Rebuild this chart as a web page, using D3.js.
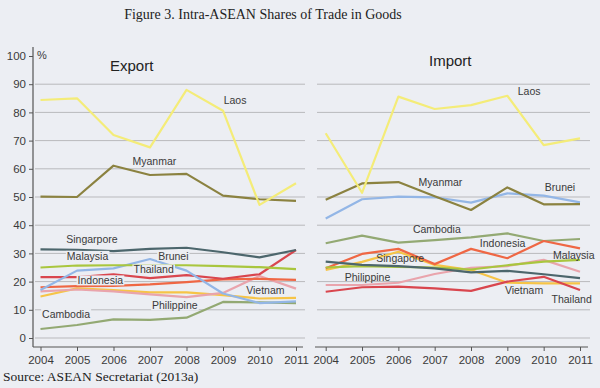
<!DOCTYPE html>
<html lang="en">
<head>
<meta charset="utf-8">
<title>Intra-ASEAN Shares of Trade in Goods</title>
<script src="https://d3js.org/d3.v7.min.js"></script>
<style>
  body { margin: 0; background: #eceef3; }
  svg { display: block; }
  .tick text { font-family: "Liberation Sans", Arial, sans-serif; font-size: 11.5px; fill: #3a3a3a; }
  .tick line { stroke: #555; }
  .lab { font-family: "Liberation Sans", Arial, sans-serif; font-size: 10.5px; fill: #3a3a3a; }
</style>
</head>
<body>
<div id="chart"></div>
<script>
// years on the x axis
var years = [2004, 2005, 2006, 2007, 2008, 2009, 2010, 2011];
var yTicks = [0, 10, 20, 30, 40, 50, 60, 70, 80, 90, 100];
var countries = ["Laos", "Myanmar", "Singapore", "Malaysia", "Brunei", "Thailand", "Indonesia", "Philippine", "Vietnam", "Cambodia"];

// export shares (%)
var exLaos       = [84.4, 85.0, 72.0, 67.6, 88.0, 80.6, 47.2, 54.9];
var exMyanmar    = [50.1, 50.0, 61.1, 57.8, 58.2, 50.5, 49.2, 48.6];
var exSingapore  = [31.4, 31.3, 30.8, 31.6, 32.0, 30.4, 28.6, 31.2];
var exMalaysia   = [25.0, 25.7, 25.8, 25.8, 25.8, 25.5, 25.1, 24.4];
var exBrunei     = [17.0, 23.9, 24.7, 28.0, 23.9, 15.8, 12.4, 13.0];
var exThailand   = [21.6, 21.6, 22.6, 21.2, 22.3, 21.0, 22.6, 31.2];
var exIndonesia  = [18.0, 18.4, 18.5, 19.0, 19.8, 20.8, 21.0, 20.6];
var exPhilippine = [16.5, 17.2, 16.5, 15.5, 14.5, 16.0, 22.0, 17.5];
var exVietnam    = [14.7, 17.6, 17.0, 16.2, 16.2, 15.2, 14.0, 14.2];
var exCambodia   = [3.2, 4.6, 6.6, 6.4, 7.2, 12.8, 12.6, 12.4];

// import shares (%)
var imLaos       = [72.6, 51.5, 85.6, 81.2, 82.6, 85.9, 68.4, 70.8];
var imMyanmar    = [49.0, 54.8, 55.3, 50.3, 45.4, 53.4, 47.4, 47.5];
var imSingapore  = [27.1, 25.9, 25.5, 24.7, 23.3, 23.8, 22.6, 21.2];
var imMalaysia   = [25.0, 25.5, 25.2, 25.0, 24.3, 25.8, 27.1, 27.7];
var imBrunei     = [42.4, 49.2, 50.1, 49.9, 48.0, 51.3, 50.5, 48.1];
var imThailand   = [16.4, 18.0, 18.2, 17.6, 16.7, 20.0, 21.7, 17.0];
var imIndonesia  = [24.7, 29.8, 31.6, 26.2, 31.6, 28.3, 34.4, 31.8];
var imPhilippine = [18.8, 18.8, 19.6, 22.7, 24.9, 25.5, 27.7, 23.5];
var imVietnam    = [24.1, 27.0, 30.6, 25.9, 24.1, 19.6, 19.4, 19.4];
var imCambodia   = [33.6, 36.3, 33.8, 34.7, 35.7, 37.1, 34.4, 35.1];

var exportSeries = [exLaos, exMyanmar, exSingapore, exMalaysia, exBrunei, exThailand, exIndonesia, exPhilippine, exVietnam, exCambodia];
var importSeries = [imLaos, imMyanmar, imSingapore, imMalaysia, imBrunei, imThailand, imIndonesia, imPhilippine, imVietnam, imCambodia];

var colors = {
  Laos: "#f4ec78", Myanmar: "#8b8240", Singapore: "#4c666c", Malaysia: "#a9c63e",
  Brunei: "#93b6e6", Thailand: "#d9464e", Indonesia: "#ef6744", Philippine: "#e9a4ac",
  Vietnam: "#f6c447", Cambodia: "#93a973"
};

// label anchors in data space: [name, year, value, boxed]
var exportLabels = [
  ["Laos", 2009.33, 83.0, false], ["Myanmar", 2007.12, 61.3, false],
  ["Singarpore", 2005.41, 33.7, false], ["Malaysia", 2005.29, 27.7, true],
  ["Brunei", 2007.64, 27.7, true], ["Thailand", 2007.1, 22.9, true],
  ["Indonesia", 2005.64, 19.0, true], ["Vietnam", 2010.16, 15.6, false],
  ["Philippine", 2007.68, 10.2, true], ["Cambodia", 2004.7, 7.2, true]
];
var importLabels = [
  ["Laos", 2009.6, 86.2, false], ["Myanmar", 2007.16, 54.0, false],
  ["Brunei", 2010.45, 52.2, false], ["Cambodia", 2007.06, 37.1, false],
  ["Indonesia", 2008.87, 32.4, false], ["Malaysia", 2010.83, 28.0, false],
  ["Singapore", 2006.05, 26.8, false], ["Philippine", 2005.15, 20.3, false],
  ["Vietnam", 2009.46, 15.5, false], ["Thailand", 2010.77, 12.3, false]
];

var W = 600, H = 388;
var svg = d3.select("#chart").append("svg").attr("width", W).attr("height", H);
svg.append("rect").attr("width", W).attr("height", H).attr("fill", "#eceef3");

var y = d3.scaleLinear().domain([0, 100]).range([338, 56]);
var xL = d3.scaleLinear().domain([2004, 2011]).range([40.5, 296]);
var xR = d3.scaleLinear().domain([2004, 2011]).range([325.7, 580]);
var axisY = 347;

svg.append("text")
  .attr("x", 263).attr("y", 19).attr("text-anchor", "middle")
  .style("font-family", "'Liberation Serif', 'Times New Roman', serif")
  .style("font-size", "14px").style("fill", "#222")
  .text("Figure 3. Intra-ASEAN Shares of Trade in Goods");

svg.append("text")
  .attr("x", 3).attr("y", 381)
  .style("font-family", "'Liberation Serif', 'Times New Roman', serif")
  .style("font-size", "13.5px").style("fill", "#222")
  .text("Source: ASEAN Secretariat (2013a)");

function panel(x, x0, x1, series, labels, title, tx, ty) {
  var g = svg.append("g");

  // gridlines
  g.selectAll(".grid").data(yTicks.filter(function(d) { return d < 100; }))
    .enter().append("line")
      .attr("x1", x0).attr("x2", x1)
      .attr("y1", function(d) { return y(d); })
      .attr("y2", function(d) { return y(d); })
      .attr("stroke", "#b9b9bc").attr("stroke-width", 1);

  // x axis
  var xa = g.append("g").attr("transform", "translate(0," + axisY + ")")
    .call(d3.axisBottom(x).tickValues(years).tickFormat(d3.format("d")).tickSize(4).tickPadding(5));
  xa.select(".domain").remove();
  xa.append("line").attr("x1", x0 - 2).attr("x2", x1 - 2).attr("stroke", "#555").attr("stroke-width", 1.2);

  var line = d3.line()
    .x(function(d, i) { return x(years[i]); })
    .y(function(d) { return y(d); });

  // draw lower-priority series first so Laos / Myanmar sit on top
  var order = [9, 8, 7, 6, 5, 4, 3, 2, 1, 0];
  order.forEach(function(k) {
    g.append("path").datum(series[k])
      .attr("d", line)
      .attr("fill", "none")
      .attr("stroke", colors[countries[k]])
      .attr("stroke-width", 2.2)
      .attr("stroke-linejoin", "round");
  });

  labels.forEach(function(l) {
    var t = g.append("text").attr("class", "lab")
      .attr("x", x(l[1])).attr("y", y(l[2]))
      .attr("text-anchor", "middle").text(l[0]);
    if (l[3]) {
      var b = t.node().getBBox();
      g.insert("rect", function() { return t.node(); })
        .attr("x", b.x - 1).attr("y", b.y + 1).attr("width", b.width + 2).attr("height", b.height - 2)
        .attr("fill", "#eceef3");
    }
  });

  g.append("text")
    .attr("x", tx).attr("y", ty)
    .style("font-family", "'Liberation Sans', Arial, sans-serif")
    .style("font-size", "15px").style("fill", "#222")
    .text(title);
  return g;
}

panel(xL, 35, 305, exportSeries, exportLabels, "Export", 110, 71);
panel(xR, 317, 590, importSeries, importLabels, "Import", 429, 66);

// y axis on the left panel
var ya = svg.append("g").attr("transform", "translate(33,0)")
  .call(d3.axisLeft(y).tickValues(yTicks).tickSize(4).tickPadding(3));
ya.select(".domain").remove();
ya.append("line").attr("y1", 47).attr("y2", axisY).attr("stroke", "#555").attr("stroke-width", 1.2);

svg.append("text").attr("x", 37).attr("y", 59)
  .style("font-family", "'Liberation Sans', Arial, sans-serif")
  .style("font-size", "11px").style("fill", "#3a3a3a")
  .text("%");
</script>
</body>
</html>
